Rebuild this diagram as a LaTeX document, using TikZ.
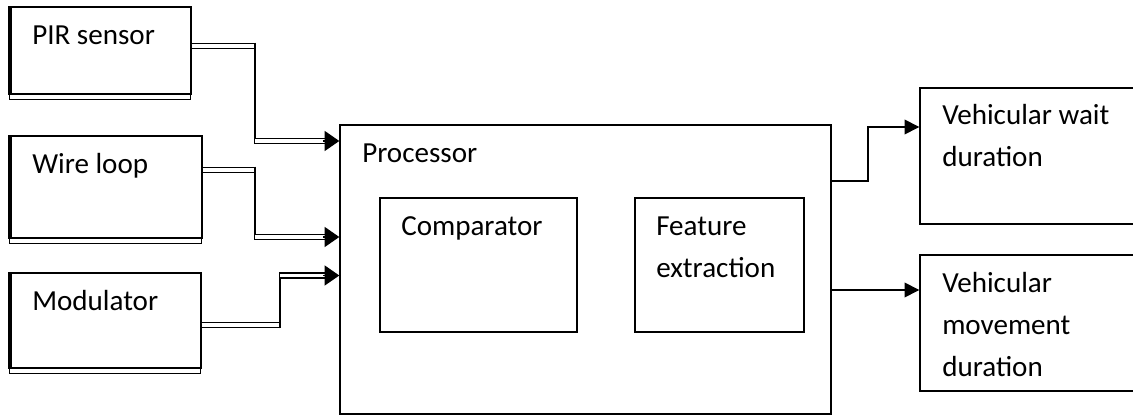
\documentclass[tikz,border=0pt]{standalone}
\usepackage{fontspec}
\setmainfont{Carlito}
\usetikzlibrary{arrows.meta,fit}
\begin{document}
\begin{tikzpicture}[x=0.75pt,y=-0.75pt,
  box/.style={draw, line width=1.05pt, inner sep=0pt},
  txt/.style={anchor=base west, inner sep=0pt, font=\fontsize{21.8pt}{31.5pt}\selectfont},
  dbl/.style={draw, line width=1.1pt, double distance=2.7pt, double=white},
  vbar/.style={draw, line width=2pt},
  tipin/.style={draw, line width=1pt, -{Triangle[length=11pt,width=15pt]}},
  outarrow/.style={draw, line width=1.05pt, -{Triangle[length=11pt,width=11pt]}},
  strip/.style={draw, line width=0.8pt},
  sideline/.style={draw, line width=2pt}]
\useasboundingbox (0,0) rectangle (1133,416);

% input blocks with a heavier left side and a thin strip underneath
\node[box, fit={(11,7) (191,94)}] (pir) {};
\node[box, fit={(11,136) (202,238)}] (loop) {};
\node[box, fit={(11,273) (201,368)}] (mod) {};
\foreach \b in {pir,loop,mod}{
  \draw[sideline] ([xshift=-0.4pt]\b.north west) -- ([xshift=-0.4pt]\b.south west);
  \draw[strip] ([xshift=-0.75pt]\b.south west) rectangle ([xshift=-0.75pt,yshift=-3.6pt]\b.south east);
}
\node[txt] (pirtxt) at (32,45) {PIR sensor};
\node[txt] (looptxt) at (32,174) {Wire loop};
\node[txt] (modtxt) at (32,311) {Modulator};

% processor with its two internal stages
\node[box, fit={(340,125) (831,414)}] (proc) {};
\node[txt] (proctxt) at (362,163) {Processor};
\node[box, fit={(380,198) (577,332)}] (comp) {};
\node[txt] (comptxt) at (401,236) {Comparator};
\node[box, fit={(635,198) (804,332)}] (feat) {};
\node[txt] (feattxt) at (656,236) {\vtop{\hbox{Feature}\hbox{extraction}}};

% output blocks (open to the right)
\node[box, fit={(920,88) (1145,224)}] (wait) {};
\node[txt] (waittxt) at (942,125) {\vtop{\hbox{Vehicular wait}\hbox{duration}}};
\node[box, fit={(920,255) (1145,391)}] (move) {};
\node[txt] (movetxt) at (942,293) {\vtop{\hbox{Vehicular}\hbox{movement}\hbox{duration}}};

% PIR sensor -> processor
\coordinate (a1) at (255,46);
\coordinate (a2) at (255,141);
\draw[dbl] (pir.east |- a1) -- (a1);
\draw[vbar, shorten <=-2.5pt, shorten >=-2.5pt] (a1) -- (a2);
\draw[dbl] (a2) -- ([xshift=-9pt]proc.west |- a2);
\draw[tipin] ([xshift=-12pt]proc.west |- a2) -- (proc.west |- a2);

% wire loop -> processor
\coordinate (b1) at (255,170);
\coordinate (b2) at (255,237);
\draw[dbl] (loop.east |- b1) -- (b1);
\draw[vbar, shorten <=-2.5pt, shorten >=-2.5pt] (b1) -- (b2);
\draw[dbl] (b2) -- ([xshift=-9pt]proc.west |- b2);
\draw[tipin] ([xshift=-12pt]proc.west |- b2) -- (proc.west |- b2);

% modulator -> processor
\coordinate (c1) at (280,325);
\coordinate (c2) at (280,275.5);
\draw[dbl] (mod.east |- c1) -- (c1);
\draw[vbar, shorten <=-2.5pt, shorten >=-2.5pt] (c1) -- (c2);
\draw[dbl] (c2) -- ([xshift=-9pt]proc.west |- c2);
\draw[tipin] ([xshift=-12pt]proc.west |- c2) -- (proc.west |- c2);

% processor -> outputs
\coordinate (d1) at (868,181);
\draw[outarrow] (proc.east |- d1) -- (d1) |- (wait.west |- 0,127);
\draw[outarrow] (proc.east |- 0,290) -- (move.west |- 0,290);
\end{tikzpicture}
\end{document}
